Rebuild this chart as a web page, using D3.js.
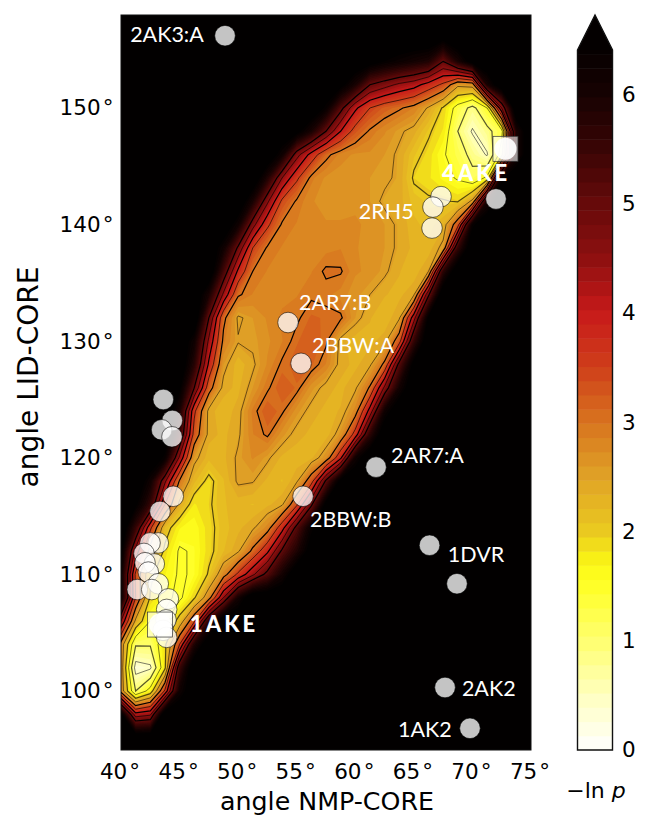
<!DOCTYPE html>
<html><head><meta charset="utf-8">
<script src="https://cdn.jsdelivr.net/npm/d3@7"></script>
<style>html,body{margin:0;padding:0;background:#fff}svg{display:block}</style></head>
<body><div id="chart"></div>
<script>
// -ln p field. Columns: angle NMP-CORE 40..75 in 1.25 deg steps.
// Rows: angle LID-CORE, top to bottom. Each row = [first column, values...]; everything else is off-scale.
const lidAngles = d3.range(158, 92, -2);
const offScale = 7;
const fieldRows = [
 [0],
 [22,6.7],
 [17,6.8,6.5,6.3,6.1,5.9,5.0,6.0,6.8],
 [15,6.7,6.0,5.0,4.7,4.4,4.2,3.8,3.4,2.6,2.7,6.0],
 [14,6.4,5.2,4.1,3.5,3.2,3.05,2.85,2.45,1.95,1.3,.85,1.5,4.5],
 [12,6.7,6.0,5.0,4.0,3.3,2.95,2.75,2.55,2.4,2.05,1.8,1.0,.45,.85,1.3,6],
 [11,6.2,4.7,3.8,3.1,2.8,2.7,2.7,2.6,2.45,2.1,1.9,1.55,1.25,.85,.45,1.8,6],
 [10,5.9,4.5,3.6,2.9,2.7,2.65,2.7,2.6,2.55,2.45,1.95,1.85,1.65,1.45,1.15,1.6,6.4],
 [9,6.0,4.6,3.4,2.95,2.75,2.65,2.65,2.7,2.6,2.45,2.4,2.15,2.05,2.03,1.97,2.6,6.0],
 [8,6.2,4.7,3.6,2.95,2.85,2.75,2.75,2.75,2.75,2.7,2.6,2.45,2.25,2.15,2.3,3.3,6.4],
 [7,6.2,4.9,3.5,2.95,2.85,2.8,2.75,2.8,2.85,2.75,2.65,2.6,2.45,2.3,2.25,2.6,5.6],
 [7,5.4,3.9,3.0,2.85,2.8,2.75,2.85,3.05,3.03,2.75,2.7,2.55,2.35,2.25,2.5,5.7],
 [6,6.0,4.4,3.05,2.85,2.75,2.8,2.85,2.95,2.9,2.8,2.65,2.5,2.35,2.3,2.45,4.9],
 [6,5.0,3.1,2.45,2.6,2.75,2.9,2.95,3.15,3.1,3.05,2.6,2.35,2.25,2.45,4.3,6.6],
 [5,6.2,4.4,2.9,2.52,2.55,2.7,2.85,3.1,3.25,3.05,2.4,2.25,2.3,2.4,3.3,5.6],
 [5,5.8,3.9,2.6,2.25,2.45,2.75,3.05,3.2,3.15,2.85,2.4,2.3,2.45,3.1,5.2,6.7],
 [4,6.6,5.0,3.2,2.4,2.3,2.6,2.95,3.25,3.1,2.65,2.4,2.3,2.45,3.05,4.6,6.1],
 [4,6.0,3.6,2.4,2.25,2.4,2.9,3.25,3.05,2.65,2.4,2.3,2.35,2.8,4.2,6.2],
 [3,6.9,5.6,3.3,2.4,2.3,2.45,2.85,3.05,2.65,2.4,2.3,2.25,2.65,3.7,5.7],
 [3,6.4,4.4,2.6,2.25,2.3,2.55,2.75,2.55,2.3,2.25,2.3,2.7,3.9,6.2],
 [2,6.2,4.6,2.95,2.25,1.9,2.2,2.55,2.52,2.3,2.2,2.45,3.3,5.1,6.7],
 [1,6.6,5.6,3.5,2.4,1.8,1.95,2.2,2.25,2.2,2.3,2.45,3.4,4.9,6.7],
 [1,5.6,3.6,2.2,1.7,1.6,1.9,2.15,2.3,2.45,2.8,3.8,5.2,6.4],
 [0,6.6,4.3,2.8,1.9,1.45,1.55,1.9,2.2,2.45,3.1,3.9,5.1,5.9,6.8],
 [0,6.3,3.4,2.1,1.7,1.45,1.55,2.05,2.8,3.6,4.4,5.2,6.1],
 [0,6.3,3.5,1.95,1.6,1.4,1.95,2.8,4.5,6.1],
 [0,4.5,2.4,1.5,1.4,2.2,3.4,5.7],
 [0,2.8,1.05,1.05,1.9,3.5,5.9],
 [0,2.8,.3,.42,1.9,5.5],
 [0,2.8,1.0,1.7,3.6,6.2],
 [0,6.6,4.2,4.4],
 [0],
 [0]
];
const nmpFirst = 40, nmpStep = 1.25, nmpCount = 29;

// Crystal structures
const otherX = [48.88,54.26,55.37,67.32,66.63,66.55,72.01,61.77,55.54,66.34,68.68,67.66,69.79,
  43.61,44.38,43.47,44.35,44.46,43.33,43.18,42.48,41.96,42.84,42.05,42.33,43.18,41.39,42.62,44.04,43.90,43.84,43.59,43.90];
const otherY = [156.2,131.6,128.1,142.4,141.5,139.7,142.2,119.2,116.7,112.5,109.2,100.3,96.8,
  125.0,123.2,122.4,121.8,116.7,115.4,112.7,112.7,111.8,110.9,111.0,110.2,109.2,108.7,108.7,107.9,107.0,106.1,105.2,104.6];
const closedOpenX = [43.33,72.82];
const closedOpenY = [105.7,146.5];

const labelNames = ["2AK3:A","2AR7:B","2BBW:A","2RH5","2AR7:A","2BBW:B","1DVR","2AK2","1AK2"];
const labelX = [40.78,55.2,56.3,60.3,63.05,56.13,67.9,69.1,63.65];
const labelY = [155.66,132.65,129.0,140.5,119.55,114.07,111.06,99.57,96.05];
const boldNames = ["1AKE","4AKE"];
const boldX = [45.9,67.4];
const boldY = [105.06,143.74];

const xTicks = [40,45,50,55,60,65,70,75];
const yTicks = [100,110,120,130,140,150];
const cbarTicks = [0,1,2,3,4,5,6];
const colorStops = [0,.5,1,1.5,1.7,2,2.5,3,3.5,4,4.5,5,5.5,6,6.5];
const colorValues = ["#ffffff","#ffffc0","#ffff70","#ffff28","#fbf814","#eaca20","#e0a226","#d8741f","#cf3f1a","#c81a1a","#8e1010","#660a0a","#3a0505","#170202","#040000"];
const fillStep = 0.13;
const lineLevels = [.5,1,1.5,2,2.5,3,3.5,4,4.5,5];

const W=651,H=830, L=121,R=531,T=15,B=750;
const x=d3.scaleLinear().domain([40,75]).range([L,R]);
const y=d3.scaleLinear().domain([100,150]).range([691,108]);
const cScale=d3.scaleLinear().domain(colorStops).range(colorValues);
const cb=d3.scaleLinear().domain([0,6]).range([750,94.5]);

const svg=d3.select("#chart").append("svg").attr("width",W).attr("height",H);
svg.append("rect").attr("width",W).attr("height",H).attr("fill","#fff");
const defs=svg.append("defs");
defs.append("clipPath").attr("id","plot").append("rect").attr("x",L).attr("y",T).attr("width",R-L).attr("height",B-T);

// flatten the field
const nr=fieldRows.length, values=[];
fieldRows.forEach(r=>{
  const row=new Array(nmpCount).fill(offScale);
  r.slice(1).forEach((v,i)=>row[r[0]+i]=v);
  values.push(...row);
});
const thresholds=d3.range(0,6.5+1e-6,fillStep);
const gen=d3.contours().size([nmpCount,nr]).smooth(true);
const toPx=d3.geoPath(d3.geoTransform({point(px,py){
  this.stream.point(x(nmpFirst+(px-.5)*nmpStep), y(lidAngles[0]+(py-.5)*(lidAngles[1]-lidAngles[0])));
}}));

const plot=svg.append("g").attr("clip-path","url(#plot)");
plot.append("rect").attr("x",L).attr("y",T).attr("width",R-L).attr("height",B-T).attr("fill","#040000");
plot.append("g").selectAll("path").data(gen.thresholds(thresholds)(values)).join("path")
  .attr("d",toPx).attr("fill",d=>cScale(d.value+fillStep/2));
plot.append("g").selectAll("path").data(gen.thresholds(lineLevels)(values)).join("path")
  .attr("d",toPx).attr("fill","none").attr("stroke","#000")
  .attr("stroke-width",d=>Number.isInteger(d.value)?1.2:.8)
  .attr("stroke-opacity",d=>d.value>=3?(Number.isInteger(d.value)?1:.8):.65);
svg.append("rect").attr("x",L).attr("y",T).attr("width",R-L).attr("height",B-T)
  .attr("fill","none").attr("stroke","#111").attr("stroke-width",1);

// markers
const mk=svg.append("g");
mk.selectAll("circle.o").data(otherX.map((d,i)=>[d,otherY[i]])).join("circle").attr("class","o")
  .attr("cx",d=>x(d[0])).attr("cy",d=>y(d[1])).attr("r",10.3)
  .attr("fill","#fff").attr("fill-opacity",.77).attr("stroke","#000").attr("stroke-width",.7).attr("stroke-opacity",.8);
const pairs=closedOpenX.map((d,i)=>[d,closedOpenY[i]]);
mk.selectAll("rect").data(pairs).join("rect")
  .attr("x",d=>x(d[0])-12.5).attr("y",d=>y(d[1])-12.5).attr("width",25).attr("height",25)
  .attr("fill","#fff").attr("fill-opacity",.6).attr("stroke","#333").attr("stroke-width",.7);
mk.selectAll("circle.c").data(pairs).join("circle").attr("class","c")
  .attr("cx",d=>x(d[0])).attr("cy",d=>y(d[1])).attr("r",11)
  .attr("fill","#fff").attr("fill-opacity",.92);

// labels
svg.append("g").selectAll("text").data(labelNames).join("text")
  .attr("x",(d,i)=>x(labelX[i])).attr("y",(d,i)=>y(labelY[i])).text(d=>d)
  .attr("fill","#fff").attr("font-family","Lato").attr("font-size",21.5);
svg.append("g").selectAll("text").data(boldNames).join("text")
  .attr("x",(d,i)=>x(boldX[i])).attr("y",(d,i)=>y(boldY[i])).text(d=>d)
  .attr("fill","#fff").attr("font-family","Lato").attr("font-weight",900).attr("font-size",22).attr("letter-spacing",3);

// axes
const font="DejaVu Sans";
const deg=d=>d+"\u200a°";
const ax=svg.append("g").attr("transform",`translate(0,${B})`).call(d3.axisBottom(x).tickValues(xTicks).tickSize(0).tickFormat(deg));
const ay=svg.append("g").attr("transform",`translate(${L},0)`).call(d3.axisLeft(y).tickValues(yTicks).tickSize(0).tickPadding(7.5).tickFormat(deg));
[ax,ay].forEach(a=>{a.select(".domain").remove();a.selectAll("text").attr("font-family",font).attr("font-size",21.5).attr("fill","#000");});
ax.selectAll("text").attr("y",28.5).attr("dy",0).attr("dx",-1.5);
svg.append("text").attr("x",327).attr("y",810).attr("text-anchor","middle").attr("font-family",font).attr("font-size",25.3).text("angle NMP-CORE");
svg.append("text").attr("transform","translate(38,377) rotate(-90)").attr("text-anchor","middle").attr("font-family",font).attr("font-size",28).text("angle LID-CORE");

// colour bar
const cx0=577.5,cx1=612.5,cTop=50,cTip=15;
const bands=thresholds.filter(t=>cb(t)>cTop);
svg.append("g").selectAll("rect").data(bands).join("rect")
  .attr("x",cx0).attr("width",cx1-cx0)
  .attr("y",t=>Math.max(cTop,cb(t+fillStep)))
  .attr("height",t=>cb(t)-Math.max(cTop,cb(t+fillStep))+.5)
  .attr("fill",t=>cScale(t+fillStep/2));
svg.append("path").attr("d",d3.line()([[cx0,cTop],[(cx0+cx1)/2,cTip],[cx1,cTop]])+"Z").attr("fill","#040000");
svg.append("path").attr("d",d3.line()([[cx0,cTop],[(cx0+cx1)/2,cTip],[cx1,cTop],[cx1,750],[cx0,750]])+"Z")
  .attr("fill","none").attr("stroke","#111").attr("stroke-width",1.4);
const ac=svg.append("g").attr("transform",`translate(${cx1},0)`).call(d3.axisRight(cb).tickValues(cbarTicks).tickSize(0).tickPadding(9.5).tickFormat(d3.format("d")));
ac.select(".domain").remove();
ac.selectAll("text").attr("font-family",font).attr("font-size",21.5).attr("fill","#000");
const lnp=svg.append("text").attr("x",596).attr("y",798).attr("text-anchor","middle").attr("font-family",font).attr("font-size",22);
lnp.append("tspan").text("−ln ");
lnp.append("tspan").attr("font-style","italic").text("p");
</script></body></html>
